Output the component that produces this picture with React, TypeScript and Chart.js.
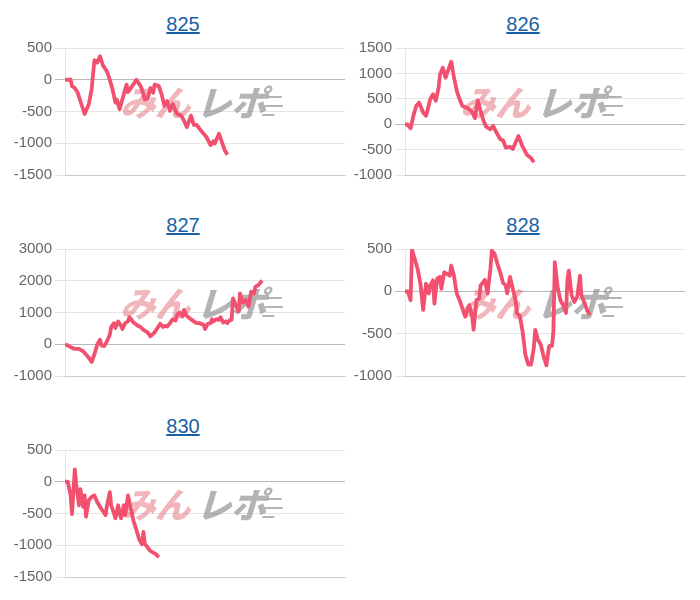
import React, { useEffect, useRef } from "react";
import { Chart, registerables } from "chart.js";

Chart.register(...registerables);

const titles = ["825", "826", "827", "828", "830"];

const x825 = [0, 4, 5, 7, 9, 11, 14, 17, 19, 21, 23, 25, 27, 30, 32, 34, 36, 37, 39, 42, 44, 45, 48, 51, 54, 55, 57, 59, 61, 63, 64, 67, 69, 71, 73, 75, 77, 80, 83, 85, 87, 90, 92, 94, 96, 99, 101, 104, 106, 107, 110, 112, 114, 116];
const v825 = [0, 0, -100, -130, -200, -335, -540, -385, -155, 310, 270, 370, 230, 130, 0, -155, -360, -310, -465, -230, -77, -195, -100, 0, -100, -155, -310, -300, -130, -205, -77, -100, -230, -410, -335, -490, -385, -540, -565, -645, -745, -565, -710, -710, -770, -850, -900, -1030, -970, -1005, -850, -980, -1105, -1180];

const x826 = [0, 2, 4, 6, 8, 10, 13, 15, 16, 18, 20, 22, 24, 25, 27, 29, 31, 33, 35, 37, 39, 41, 44, 46, 48, 50, 52, 54, 56, 58, 61, 63, 65, 68, 70, 72, 75, 77, 79, 81, 84, 85, 87, 90, 92];
const v826 = [0, -10, -80, 165, 360, 425, 230, 165, 260, 490, 590, 460, 720, 980, 1110, 915, 1080, 1230, 915, 655, 490, 360, 325, 295, 230, 120, 470, 260, 80, -50, -100, -35, -145, -295, -315, -460, -445, -490, -360, -230, -445, -490, -600, -665, -750];

const x827 = [0, 2, 5, 7, 10, 13, 15, 17, 19, 21, 23, 25, 26, 28, 30, 32, 33, 35, 36, 38, 40, 41, 43, 45, 46, 49, 52, 54, 56, 59, 61, 64, 66, 68, 70, 71, 73, 75, 77, 79, 80, 82, 84, 85, 87, 89, 92, 94, 96, 99, 100, 102, 104, 105, 106, 108, 110, 111, 113, 115, 116, 118, 119, 120, 122, 124, 125, 127, 129, 131, 133, 135, 136, 138, 140, 141];
const v827 = [0, -40, -115, -145, -145, -220, -320, -425, -560, -320, -10, 145, -40, -60, 95, 300, 540, 665, 510, 720, 580, 480, 665, 720, 850, 685, 580, 540, 455, 375, 250, 375, 510, 645, 540, 580, 560, 665, 790, 750, 925, 1000, 875, 1080, 895, 820, 720, 665, 665, 615, 480, 645, 665, 790, 720, 790, 770, 850, 685, 720, 665, 770, 770, 1445, 1240, 1030, 1600, 1310, 1395, 1185, 1655, 1600, 1810, 1860, 1965, 2000];

const x828 = [0, 2, 4, 5, 7, 9, 11, 13, 15, 17, 18, 20, 21, 23, 25, 26, 28, 30, 32, 33, 35, 36, 37, 39, 41, 43, 44, 46, 48, 49, 51, 53, 54, 56, 57, 59, 61, 62, 64, 66, 68, 70, 72, 73, 75, 77, 79, 80, 82, 84, 86, 88, 90, 92, 93, 95, 97, 99, 101, 102, 103, 105, 106, 107, 109, 111, 113, 115, 116, 117, 119, 121, 123, 125, 126, 128, 130, 132];
const v828 = [0, 0, -105, 490, 380, 265, 90, -220, 90, -25, 70, 130, -145, 150, 170, 30, 225, 205, 185, 305, 185, 70, -25, -105, -200, -300, -240, -165, -300, -455, -105, -85, 70, 110, 135, -25, 265, 480, 440, 325, 225, 100, 70, -25, 170, 30, -105, -260, -290, -475, -750, -865, -865, -670, -455, -575, -630, -770, -875, -750, -645, -645, -475, 345, 50, -105, -165, -255, 130, 245, -45, -125, -65, 185, -45, -125, -220, -280];

const x830 = [0, 2, 4, 5, 7, 8, 10, 11, 13, 14, 15, 17, 19, 21, 23, 25, 27, 29, 30, 32, 33, 35, 36, 38, 39, 40, 42, 43, 45, 47, 49, 51, 53, 55, 56, 57, 59, 61, 63, 65, 67];
const v830 = [0, 0, -215, -510, 195, -35, -370, -115, -395, -215, -550, -290, -240, -215, -320, -395, -460, -525, -370, -165, -370, -500, -575, -370, -500, -575, -370, -525, -215, -420, -625, -755, -910, -985, -790, -975, -1035, -1090, -1115, -1140, -1190];

const xs = [x825, x826, x827, x828, x830];
const vs = [v825, v826, v827, v828, v830];
const yMin = [-1500, -1000, -1000, -1000, -1500];
const yMax = [500, 1500, 3000, 500, 500];
const yStep = [500, 500, 1000, 500, 500];
const X_MAX = 200;

const LINE_COLOR = "rgb(241, 80, 110)";

const watermark = {
  id: "watermark",
  beforeDatasetsDraw(chart: any) {
    const { ctx, chartArea: a } = chart;
    ctx.save();
    ctx.translate(a.left + 55, a.top + 68);
    ctx.transform(1, 0, -0.3, 1, 0, 0);
    ctx.font = "900 35px 'Noto Sans CJK JP'";
    ctx.textBaseline = "alphabetic";
    ctx.fillStyle = "rgba(225, 110, 120, 0.5)";
    ctx.fillText("みん", 0, 0);
    const w = ctx.measureText("みん").width;
    ctx.fillStyle = "rgba(140, 140, 140, 0.65)";
    ctx.fillText("レポ", w + 6, 0);
    const w2 = ctx.measureText("レポ").width;
    ctx.fillRect(w + 6 + w2 - 4, -20, 14, 2);
    ctx.fillRect(w + 6 + w2 - 4, -11, 18, 2);
    ctx.fillRect(w + 6 + w2 - 4, -2, 12, 2);
    ctx.restore();
  },
};

function MiniChart({ idx }: { idx: number }) {
  const ref = useRef<HTMLCanvasElement | null>(null);
  useEffect(() => {
    const chart = new Chart(ref.current as HTMLCanvasElement, {
      type: "line",
      data: {
        datasets: [
          {
            data: xs[idx].map((x, i) => ({ x, y: vs[idx][i] })),
            borderColor: LINE_COLOR,
            backgroundColor: LINE_COLOR,
            borderWidth: 3.8,
            pointRadius: 0,
            tension: 0,
            fill: false,
            borderJoinStyle: "round",
          },
        ],
      },
      options: {
        animation: false,
        responsive: false,
        events: [],
        layout: { padding: { top: 20, right: 8, bottom: 20, left: 0 } },
        plugins: { legend: { display: false }, tooltip: { enabled: false }, title: { display: false } },
        scales: {
          x: {
            type: "linear",
            min: 0,
            max: X_MAX,
            ticks: { display: false },
            grid: { display: false },
            border: { display: true, color: "rgba(0,0,0,0.12)" },
          },
          y: {
            min: yMin[idx],
            max: yMax[idx],
            ticks: {
              stepSize: yStep[idx],
              color: "#666",
              font: { size: 15 },
              padding: 3,
              callback: (v: any) => String(v),
            },
            grid: {
              color: (c: any) => (c.tick && c.tick.value === 0 ? "rgba(0,0,0,0.28)" : "rgba(0,0,0,0.1)"),
              tickLength: 10,
            },
            border: { display: true, color: "rgba(0,0,0,0.1)" },
            afterFit: (s: any) => {
              s.width = 52;
            },
          },
        },
      },
      plugins: [watermark],
    } as any);
    return () => chart.destroy();
  }, [idx]);
  return (
    <div style={{ position: "relative", width: 340, height: 201 }}>
      <div
        style={{
          height: 32,
          lineHeight: "32px",
          textAlign: "center",
          fontSize: 20,
          fontFamily: "Arial, 'Liberation Sans', sans-serif",
        }}
      >
        <a href="#" style={{ color: "#1a5fa6", textDecoration: "underline" }}>
          {titles[idx]}
        </a>
      </div>
      <div style={{ position: "absolute", left: 0, top: 20, width: 340, height: 175 }}>
        <canvas ref={ref} width={340} height={175} />
      </div>
    </div>
  );
}

export default function App() {
  return (
    <div style={{ display: "grid", gridTemplateColumns: "340px 340px", marginLeft: 5 }}>
      {titles.map((_, i) => (
        <MiniChart key={i} idx={i} />
      ))}
    </div>
  );
}
